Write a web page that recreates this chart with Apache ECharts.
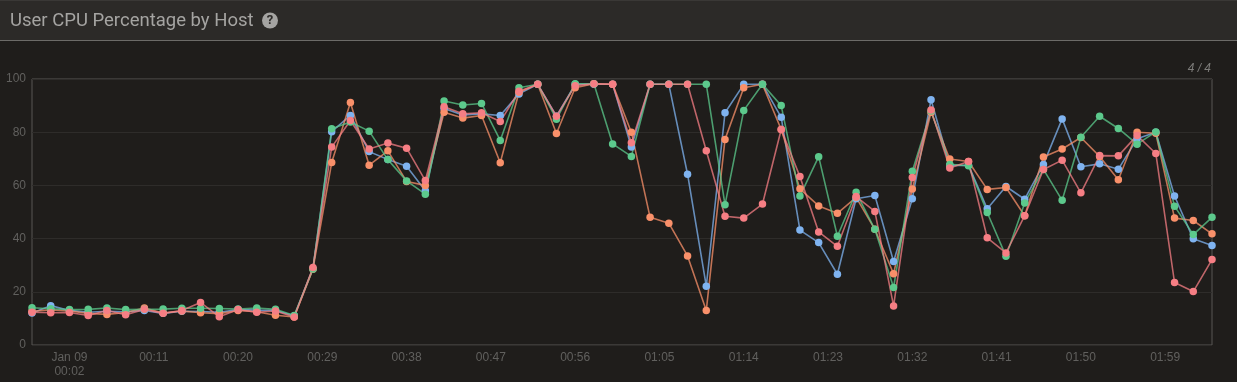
<!DOCTYPE html>
<html>
<head>
<meta charset="utf-8">
<title>User CPU Percentage by Host</title>
<script src="https://cdn.jsdelivr.net/npm/echarts@6/dist/echarts.min.js"></script>
<style>
  html, body { margin: 0; padding: 0; background: #1f1d1b; }
  #chart { width: 1237px; height: 382px; }
</style>
</head>
<body>
<div id="chart"></div>
<script>
// minutes from midnight Jan 09, one sample every 2 minutes
const minutes = [
  -2, 0, 2, 4, 6, 8, 10, 12, 14, 16, 18, 20, 22, 24, 26, 28,
  30, 32, 34, 36, 38, 40, 42, 44, 46, 48, 50, 52, 54, 56, 58, 60,
  62, 64, 66, 68, 70, 72, 74, 76, 78, 80, 82, 84, 86, 88, 90, 92,
  94, 96, 98, 100, 102, 104, 106, 108, 110, 112, 114, 116, 118, 120, 122, 124
];
const tickMinutes = [2, 11, 20, 29, 38, 47, 56, 65, 74, 83, 92, 101, 110, 119];
const tickLabels = ["Jan 09\n00:02", "00:11", "00:20", "00:29", "00:38", "00:47", "00:56", "01:05", "01:14", "01:23", "01:32", "01:41", "01:50", "01:59"];

const blue = [
  12, 14.8, 13, 12.3, 12.7, 12.5, 13, 11.9, 12.7, 12.6, 12.3, 13.3, 13.1, 13, 11, 28.8,
  80.2, 86.3, 72.7, 69.7, 67.2, 58, 88.9, 86.5, 86.9, 86.3, 94.4, 98, 86, 98, 98, 98,
  74.4, 98, 98, 64.2, 22.1, 87.3, 98, 98, 85.6, 43.2, 38.5, 26.6, 55, 56.2, 31.4, 55,
  92.2, 67.5, 67.6, 51.2, 59.6, 54.8, 67.9, 85, 67, 68.1, 66.1, 77.5, 80, 56, 39.9, 37.4
];
const green = [
  14, 13.6, 13.3, 13.4, 13.9, 13.3, 13.4, 13.5, 13.8, 13.8, 13.7, 13.5, 13.9, 13.4, 11.1, 28.6,
  81.3, 83.8, 80.4, 69.7, 61.7, 56.7, 91.7, 90.2, 90.8, 76.9, 96.7, 98, 84.9, 98.2, 98.2, 75.6,
  70.9, 98, 98, 98, 98, 52.7, 88.2, 98, 90, 56, 70.8, 40.9, 57.4, 43.5, 21.6, 65.3,
  88, 67.9, 67.4, 49.8, 33.4, 53.4, 66, 54.4, 78.1, 86, 81.4, 75.5, 80.1, 52.2, 41.5, 48
];
const orange = [
  12.7, 13.2, 12.8, 11.9, 11.5, 12.2, 13.9, 12, 12.8, 12.1, 11.8, 13, 12.5, 11.2, 10.5, 28.5,
  68.6, 91.2, 67.6, 73, 61.5, 60, 87.5, 85.3, 86.3, 68.5, 95, 98, 79.5, 96.7, 98.2, 98,
  80, 48, 45.8, 33.5, 13, 77.3, 96.7, 98, 81, 58.7, 52.3, 49.5, 55.5, 43.5, 26.8, 58.6,
  87.5, 69.9, 69, 58.5, 59.2, 48.6, 70.7, 73.7, 78, 70.9, 62.1, 80, 79.6, 47.7, 46.8, 41.8
];
const red = [
  12.3, 12.1, 12.2, 11.1, 13, 11.4, 13.4, 11.9, 13, 16, 10.6, 13.3, 12.3, 12.8, 10.5, 29.1,
  74.4, 84.4, 73.7, 75.9, 74, 61.8, 89.6, 86.9, 87.3, 84, 95.4, 98, 86, 97.5, 98.2, 98,
  76, 98, 98, 98, 73, 48.4, 47.7, 53, 81, 63.3, 42.5, 37.1, 55.8, 50.2, 14.7, 63,
  88.3, 66.5, 69, 40.3, 34.6, 48.6, 66, 69.5, 57.2, 71.2, 71.1, 78.8, 72, 23.5, 20.1, 32.1
];

function makeSeries(name, values, color) {
  return {
    name: name,
    type: "line",
    data: values.map((v, i) => [minutes[i], v]),
    symbol: "circle",
    symbolSize: 7.5,
    showSymbol: true,
    animation: false,
    itemStyle: { color: color },
    lineStyle: { color: color, width: 1.6, opacity: 0.75 }
  };
}

const chart = echarts.init(document.getElementById("chart"), null, { renderer: "canvas" });

chart.setOption({
  backgroundColor: "#1f1d1b",
  animation: false,
  title: {
    text: "User CPU Percentage by Host",
    left: 10,
    top: 12,
    padding: 0,
    textStyle: { color: "#a5a4a2", fontSize: 18.5, fontWeight: "normal", fontFamily: "Roboto" }
  },
  graphic: [
    { type: "rect", z: -1, shape: { x: 0, y: 0, width: 1237, height: 40 }, style: { fill: "#2c2a28" } },
    { type: "rect", z: -1, shape: { x: 0, y: 0, width: 1237, height: 1 }, style: { fill: "#3a3836" } },
    { type: "rect", z: -1, shape: { x: 0, y: 40, width: 1237, height: 1 }, style: { fill: "#6c6b68" } },
    { type: "circle", z: 5, shape: { cx: 270, cy: 20.5, r: 8 }, style: { fill: "#a5a4a2" } },
    {
      type: "text", z: 6, x: 270, y: 21,
      style: { text: "?", fill: "#2c2a28", font: "bold 13px Roboto", textAlign: "center", textVerticalAlign: "middle" }
    },
    {
      type: "text", z: 6, x: 1211, y: 69,
      style: { text: "4 / 4", fill: "#7d7c7a", font: "italic 12px 'Liberation Sans'", textAlign: "right", textVerticalAlign: "middle" }
    }
  ],
  grid: {
    left: 32, right: 25, top: 79, bottom: 37,
    show: true,
    borderColor: "#585755",
    borderWidth: 1,
    backgroundColor: "transparent"
  },
  xAxis: {
    type: "value",
    min: -2,
    max: 124,
    splitLine: { show: false },
    axisLine: { show: false },
    axisTick: { show: false },
    axisLabel: {
      customValues: tickMinutes,
      color: "#61605e",
      fontSize: 12,
      lineHeight: 14,
      margin: 6,
      fontFamily: "'Liberation Sans'",
      formatter: v => tickLabels[tickMinutes.indexOf(v)]
    }
  },
  yAxis: {
    type: "value",
    min: 0,
    max: 100,
    interval: 20,
    axisLine: { show: false },
    axisTick: { show: false },
    axisLabel: { color: "#61605e", fontSize: 12, margin: 6, fontFamily: "'Liberation Sans'" },
    splitLine: { lineStyle: { color: "#2e2c2a", width: 1 } }
  },
  series: [
    makeSeries("host-1", blue, "#7fb3f0"),
    makeSeries("host-2", orange, "#f9906a"),
    makeSeries("host-3", green, "#5cc98c"),
    makeSeries("host-4", red, "#f67e84")
  ]
});
</script>
</body>
</html>
